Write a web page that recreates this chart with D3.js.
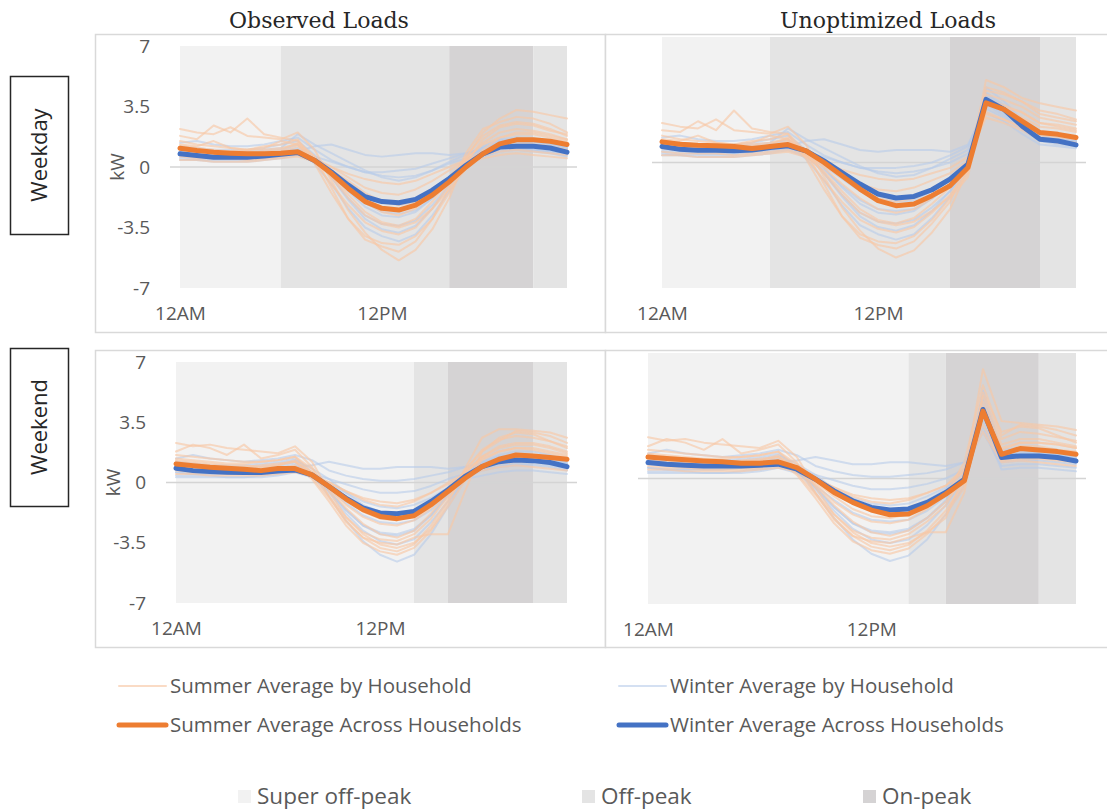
<!DOCTYPE html>
<html>
<head>
<meta charset="utf-8">
<script src="https://cdn.jsdelivr.net/npm/d3@7"></script>
<style>
  html, body { margin: 0; padding: 0; background: #ffffff; }
  svg { display: block; }
</style>
</head>
<body>
<svg id="chart" width="1107" height="810"></svg>
<script>
// ---- Hour-of-day categories and axis labels ----
const hours = d3.range(24);
const xTickHours = [0, 12];
const xTickLabels = ["12AM", "12PM"];
const yTickValues = [-7, -3.5, 0, 3.5, 7];

// ---- Tariff periods: [start hour, end hour, period] ----
const weekdayPeriods = [[0, 6, "super"], [6, 16, "off"], [16, 21, "on"], [21, 23, "off"]];
const weekendPeriods = [[0, 14, "super"], [14, 16, "off"], [16, 21, "on"], [21, 23, "off"]];

// ---- Observed loads, weekday (kW) ----
const obsWeekdaySummerMean = [1.09,0.96,0.86,0.80,0.76,0.76,0.80,0.88,0.38,-0.38,-1.24,-2.00,-2.39,-2.49,-2.20,-1.62,-0.86,0.00,0.76,1.34,1.57,1.57,1.49,1.30];
const obsWeekdayWinterMean = [0.76,0.67,0.57,0.57,0.57,0.63,0.73,0.84,0.38,-0.29,-1.05,-1.72,-2.00,-2.07,-1.87,-1.34,-0.67,0.10,0.76,1.15,1.20,1.20,1.10,0.86];
const obsWeekdaySummerHouseholds = [
  [2.2,2.0,1.9,2.3,1.8,1.7,1.6,2.0,1.0,-0.8,-2.5,-3.8,-4.8,-5.4,-4.8,-3.6,-1.8,0.5,2.0,2.8,3.3,3.2,3.0,2.8],
  [1.8,1.6,2.4,2.0,2.8,1.9,1.7,1.5,0.6,-1.2,-3.0,-4.2,-4.6,-4.9,-4.3,-3.0,-1.2,0.8,2.2,2.6,2.9,2.8,2.5,2.0],
  [1.2,1.1,1.0,0.9,0.9,0.8,0.9,1.2,0.4,-0.5,-1.6,-2.6,-3.2,-3.4,-3.0,-2.0,-0.8,0.4,1.4,2.0,2.2,2.1,1.9,1.6],
  [0.8,0.7,0.7,0.6,0.6,0.7,0.8,0.9,0.5,0.0,-0.6,-1.2,-1.5,-1.6,-1.3,-0.8,-0.2,0.4,0.9,1.2,1.3,1.3,1.2,1.0],
  [1.5,1.3,1.2,1.1,1.0,1.0,1.1,1.3,0.3,-1.0,-2.2,-3.2,-3.7,-3.9,-3.5,-2.4,-1.0,0.6,1.8,2.4,2.6,2.5,2.2,1.8],
  [0.6,0.5,0.5,0.5,0.4,0.5,0.6,0.7,0.4,0.0,-0.4,-0.7,-0.9,-1.0,-0.8,-0.4,0.0,0.4,0.7,0.9,1.0,0.9,0.8,0.7],
  [1.0,0.9,0.8,0.8,0.8,0.9,1.0,1.4,0.6,-0.3,-1.2,-2.0,-2.6,-2.8,-2.4,-1.6,-0.6,0.5,1.3,1.7,1.9,1.9,1.7,1.5],
  [1.3,1.2,1.5,1.1,1.0,1.2,1.3,1.6,0.2,-1.5,-3.0,-4.0,-4.4,-4.5,-4.0,-3.0,-1.5,0.2,1.6,2.3,2.5,2.4,2.1,1.9],
  [0.4,0.4,0.3,0.3,0.3,0.4,0.5,0.6,0.3,-0.2,-0.8,-1.5,-2.0,-2.2,-2.0,-1.4,-0.6,0.2,0.5,0.7,0.8,0.7,0.6,0.5],
  [1.1,1.0,0.9,0.9,1.0,1.1,1.5,1.3,0.5,-0.6,-1.8,-2.8,-3.3,-3.5,-3.2,-2.4,-1.3,-0.1,1.0,1.7,2.0,2.0,1.8,1.6]
];
const obsWeekdayWinterHouseholds = [
  [1.4,1.5,1.3,1.2,1.2,1.3,1.5,1.7,1.0,0.4,0.0,-0.3,-0.3,-0.2,-0.1,0.2,0.5,0.8,1.0,1.1,1.1,1.0,0.9,0.8],
  [0.6,0.5,0.5,0.5,0.5,0.6,0.7,0.9,1.2,1.3,1.0,0.7,0.6,0.7,0.8,0.8,0.7,0.8,1.0,1.2,1.3,1.2,1.1,0.9],
  [1.0,0.9,0.8,0.8,0.8,0.9,1.0,1.3,0.5,-0.6,-1.8,-2.8,-3.3,-3.4,-3.1,-2.2,-1.0,0.3,1.2,1.6,1.7,1.6,1.4,1.1],
  [0.8,0.7,0.6,0.6,0.6,0.7,0.8,1.0,0.2,-1.0,-2.4,-3.5,-4.0,-4.3,-3.9,-2.8,-1.4,0.0,1.0,1.4,1.5,1.5,1.3,1.0],
  [0.5,0.4,0.4,0.4,0.4,0.5,0.6,0.8,0.6,0.3,0.0,-0.3,-0.5,-0.6,-0.5,-0.2,0.2,0.5,0.8,1.0,1.0,1.0,0.9,0.7],
  [1.2,1.1,1.0,1.0,1.0,1.1,1.3,1.5,0.7,-0.3,-1.4,-2.3,-2.8,-2.9,-2.6,-1.8,-0.8,0.3,1.1,1.5,1.6,1.5,1.4,1.2],
  [0.7,0.6,0.5,0.5,0.5,0.6,0.7,0.8,0.4,-0.2,-0.9,-1.6,-2.0,-2.2,-2.0,-1.4,-0.6,0.3,0.9,1.2,1.3,1.2,1.1,0.9],
  [0.9,0.8,0.7,0.7,0.7,0.8,0.9,1.1,0.5,-0.6,-1.9,-3.0,-3.6,-3.8,-3.4,-2.4,-1.1,0.2,1.1,1.5,1.6,1.5,1.3,1.1],
  [0.4,0.4,0.3,0.3,0.3,0.4,0.5,0.7,0.3,-0.4,-1.3,-2.1,-2.6,-2.7,-2.5,-1.8,-0.9,0.1,0.6,0.9,1.0,0.9,0.8,0.6],
  [1.1,1.0,0.9,0.9,0.9,1.0,1.1,1.9,1.3,0.8,0.3,-0.2,-0.6,-0.8,-0.6,-0.2,0.3,0.7,1.1,1.3,1.4,1.4,1.3,1.1]
];

// ---- Unoptimized loads, weekday (kW) ----
const unoptWeekdaySummerMean = [1.15,1.02,0.96,0.93,0.89,0.78,0.89,1.00,0.65,0.00,-0.74,-1.48,-2.13,-2.41,-2.31,-1.85,-1.30,-0.28,3.33,2.96,2.31,1.67,1.57,1.39];
const unoptWeekdayWinterMean = [0.89,0.74,0.69,0.69,0.65,0.70,0.83,0.93,0.65,0.09,-0.56,-1.20,-1.76,-1.98,-1.89,-1.52,-0.93,-0.09,3.52,2.96,2.04,1.30,1.20,0.98];
const unoptWeekdaySummerHouseholds = [
  [2.2,2.0,1.9,2.4,1.8,1.7,1.6,2.0,1.0,-0.8,-2.5,-3.8,-4.8,-5.3,-4.9,-3.9,-2.6,-0.4,4.6,4.2,3.6,3.3,3.1,2.9],
  [1.8,1.7,2.3,1.8,2.9,1.9,1.7,1.6,0.6,-1.2,-3.0,-4.2,-4.6,-4.8,-4.4,-3.4,-2.2,0.2,4.2,3.9,3.4,2.9,2.7,2.4],
  [1.2,1.1,1.0,0.9,0.9,0.8,0.9,1.2,0.4,-0.5,-1.6,-2.6,-3.2,-3.4,-3.1,-2.3,-1.4,0.0,3.5,3.2,2.8,2.2,2.1,1.9],
  [0.8,0.7,0.7,0.6,0.6,0.7,0.8,0.9,0.5,0.0,-0.6,-1.2,-1.5,-1.6,-1.4,-1.0,-0.6,0.1,2.7,2.4,2.0,1.5,1.4,1.3],
  [1.5,1.3,1.2,1.1,1.0,1.0,1.1,1.3,0.3,-1.0,-2.2,-3.2,-3.7,-3.9,-3.6,-2.8,-1.8,-0.5,3.8,3.5,3.1,2.5,2.3,2.1],
  [0.6,0.5,0.5,0.5,0.4,0.5,0.6,0.7,0.4,0.0,-0.4,-0.7,-0.9,-1.0,-0.9,-0.6,-0.3,0.3,2.5,2.2,1.8,1.3,1.2,1.1],
  [1.0,0.9,0.8,0.8,0.8,0.9,1.0,1.4,0.6,-0.3,-1.2,-2.0,-2.6,-2.8,-2.6,-2.0,-1.2,-0.2,3.3,3.0,2.5,2.0,1.9,1.7],
  [1.3,1.2,1.5,1.1,1.0,1.2,1.3,1.6,0.2,-1.5,-3.0,-4.0,-4.4,-4.5,-4.1,-3.2,-2.0,-0.8,4.0,3.8,3.4,2.7,2.5,2.3],
  [0.4,0.4,0.3,0.3,0.3,0.4,0.5,0.6,0.3,-0.2,-0.8,-1.5,-2.0,-2.2,-2.0,-1.6,-1.0,-0.2,2.8,2.4,1.9,1.3,1.1,1.0],
  [1.1,1.0,0.9,0.9,1.0,1.1,1.5,1.3,0.5,-0.6,-1.8,-2.8,-3.3,-3.5,-3.3,-2.7,-1.9,-0.6,3.4,3.1,2.8,2.2,2.0,1.8]
];
const unoptWeekdayWinterHouseholds = [
  [1.4,1.5,1.3,1.2,1.2,1.3,1.5,1.7,1.0,0.4,0.0,-0.3,-0.3,-0.3,-0.2,0.0,0.4,0.9,3.2,2.6,1.9,1.3,1.2,1.1],
  [0.6,0.5,0.5,0.5,0.5,0.6,0.7,0.9,1.2,1.3,1.0,0.7,0.6,0.7,0.7,0.7,0.6,1.0,3.0,2.5,1.8,1.2,1.1,1.0],
  [1.0,0.9,0.8,0.8,0.8,0.9,1.0,1.3,0.5,-0.6,-1.8,-2.8,-3.3,-3.4,-3.2,-2.5,-1.6,-0.3,3.9,3.2,2.3,1.5,1.4,1.2],
  [0.8,0.7,0.6,0.6,0.6,0.7,0.8,1.0,0.2,-1.0,-2.4,-3.5,-4.0,-4.3,-4.0,-3.1,-1.9,-0.5,4.2,3.4,2.4,1.6,1.5,1.3],
  [0.5,0.4,0.4,0.4,0.4,0.5,0.6,0.8,0.6,0.3,0.0,-0.3,-0.5,-0.6,-0.5,-0.3,0.0,0.5,2.8,2.3,1.6,1.0,0.9,0.8],
  [1.2,1.1,1.0,1.0,1.0,1.1,1.3,1.5,0.7,-0.3,-1.4,-2.3,-2.8,-2.9,-2.7,-2.0,-1.2,0.0,3.7,3.0,2.2,1.5,1.4,1.2],
  [0.7,0.6,0.5,0.5,0.5,0.6,0.7,0.8,0.4,-0.2,-0.9,-1.6,-2.0,-2.2,-2.1,-1.6,-0.9,0.1,3.4,2.8,2.0,1.3,1.2,1.0],
  [0.9,0.8,0.7,0.7,0.7,0.8,0.9,1.1,0.5,-0.6,-1.9,-3.0,-3.6,-3.8,-3.5,-2.7,-1.6,-0.2,3.8,3.1,2.2,1.5,1.3,1.2],
  [0.4,0.4,0.3,0.3,0.3,0.4,0.5,0.7,0.3,-0.4,-1.3,-2.1,-2.6,-2.7,-2.6,-2.0,-1.2,-0.1,3.3,2.7,1.9,1.2,1.0,0.9],
  [1.1,1.0,0.9,0.9,0.9,1.0,1.1,1.9,1.3,0.8,0.3,-0.2,-0.6,-0.8,-0.7,-0.3,0.2,0.7,3.5,2.9,2.1,1.4,1.3,1.2]
];

// ---- Observed loads, weekend (kW) ----
const obsWeekendSummerMean = [1.08,0.98,0.89,0.83,0.77,0.69,0.81,0.81,0.44,-0.23,-0.96,-1.58,-1.97,-2.10,-1.93,-1.29,-0.52,0.25,0.92,1.35,1.60,1.54,1.45,1.35];
const obsWeekendWinterMean = [0.83,0.69,0.64,0.60,0.58,0.58,0.67,0.73,0.44,-0.23,-0.91,-1.48,-1.77,-1.81,-1.68,-1.10,-0.42,0.35,0.92,1.21,1.31,1.27,1.16,0.92];
const obsWeekendSummerHouseholds = [
  [2.3,2.1,2.2,2.0,1.9,1.8,1.7,2.1,1.2,-0.5,-2.0,-3.0,-3.6,-3.8,-3.5,-2.7,-1.2,0.8,2.6,3.1,3.1,3.0,2.9,2.6],
  [1.8,2.2,2.0,1.6,2.2,1.4,1.6,1.9,0.9,-0.8,-2.3,-3.2,-3.5,-3.6,-3.2,-3.0,-3.0,-0.5,1.8,2.6,2.9,2.8,2.4,2.0],
  [1.3,1.2,1.1,1.0,1.0,0.9,1.0,1.3,0.5,-0.4,-1.5,-2.4,-3.0,-3.2,-2.8,-1.8,-0.6,0.6,1.5,2.1,2.3,2.3,2.1,1.8],
  [0.7,0.6,0.6,0.5,0.5,0.5,0.6,0.8,0.5,0.0,-0.5,-1.0,-1.3,-1.4,-1.1,-0.6,0.0,0.5,0.9,1.1,1.2,1.2,1.1,1.0],
  [1.6,1.5,1.4,1.3,1.2,1.2,1.3,1.5,0.6,-0.8,-2.0,-2.9,-3.3,-3.4,-3.0,-2.1,-0.8,0.7,1.9,2.5,2.7,2.6,2.4,2.1],
  [0.5,0.5,0.4,0.4,0.4,0.4,0.5,0.6,0.4,0.0,-0.5,-0.9,-1.1,-1.2,-1.0,-0.6,-0.1,0.4,0.7,0.9,1.0,0.9,0.8,0.7],
  [1.0,0.9,0.9,0.8,0.8,0.9,1.0,1.2,0.3,-0.9,-2.2,-3.2,-3.8,-4.0,-3.6,-2.5,-1.0,0.5,1.5,2.0,2.2,2.2,2.0,1.7],
  [1.4,1.3,1.2,1.1,1.1,1.2,1.3,1.5,0.8,-0.3,-1.3,-2.0,-2.4,-2.5,-2.2,-1.5,-0.5,0.7,1.8,2.4,3.0,2.9,2.7,2.3],
  [0.9,0.8,0.8,0.7,0.7,0.7,0.8,1.0,0.2,-1.1,-2.5,-3.5,-4.0,-4.2,-3.8,-2.8,-1.4,0.1,1.3,1.8,2.0,1.9,1.7,1.5],
  [1.2,1.1,1.0,0.9,0.9,1.0,1.1,1.2,0.6,-0.2,-1.0,-1.7,-2.1,-2.2,-1.9,-1.2,-0.3,0.6,1.4,1.8,2.0,2.0,1.8,1.6]
];
const obsWeekendWinterHouseholds = [
  [1.4,1.6,1.4,1.3,1.2,1.3,1.4,1.6,1.3,0.7,0.4,0.2,0.1,0.1,0.2,0.4,0.6,0.9,1.1,1.3,1.4,1.3,1.2,1.1],
  [0.6,0.5,0.5,0.5,0.5,0.6,0.7,0.9,1.0,1.2,1.0,0.8,0.8,0.9,0.9,0.9,0.8,0.9,1.0,1.2,1.3,1.3,1.2,1.0],
  [1.0,0.9,0.8,0.8,0.8,0.9,1.0,1.2,0.5,-0.8,-2.2,-3.4,-4.2,-4.6,-4.2,-3.0,-1.4,0.2,1.1,1.5,1.6,1.6,1.4,1.1],
  [0.8,0.7,0.6,0.6,0.6,0.7,0.8,1.0,0.4,-0.5,-1.6,-2.5,-3.0,-3.1,-2.8,-1.9,-0.7,0.5,1.2,1.5,1.6,1.5,1.3,1.0],
  [0.4,0.4,0.4,0.3,0.3,0.4,0.5,0.7,0.5,0.2,-0.1,-0.4,-0.6,-0.6,-0.5,-0.2,0.2,0.5,0.7,0.9,1.0,1.0,0.9,0.7],
  [1.2,1.1,1.0,1.0,1.0,1.1,1.2,1.4,0.6,-0.5,-1.6,-2.5,-2.9,-3.0,-2.7,-1.9,-0.8,0.4,1.2,1.6,1.8,1.8,1.6,1.3],
  [0.6,0.5,0.5,0.5,0.5,0.6,0.6,0.8,0.3,-0.4,-1.2,-1.9,-2.3,-2.4,-2.2,-1.6,-0.7,0.2,0.7,1.0,1.1,1.1,1.0,0.8],
  [0.9,0.8,0.7,0.7,0.7,0.8,0.9,1.1,0.5,-0.6,-1.8,-2.8,-3.4,-3.6,-3.3,-2.3,-1.1,0.2,1.0,1.4,1.5,1.5,1.3,1.1],
  [0.3,0.3,0.3,0.3,0.3,0.3,0.4,0.6,0.3,-0.1,-0.6,-1.1,-1.4,-1.5,-1.3,-0.9,-0.3,0.2,0.4,0.6,0.7,0.7,0.6,0.5],
  [1.1,1.0,0.9,0.9,0.9,1.0,1.1,1.3,0.8,0.2,-0.6,-1.3,-1.7,-1.8,-1.6,-1.1,-0.4,0.4,1.1,1.4,1.5,1.5,1.4,1.2]
];

// ---- Unoptimized loads, weekend (kW) ----
const unoptWeekendSummerMean = [1.20,1.11,1.04,0.98,0.93,0.85,0.85,0.93,0.61,-0.04,-0.78,-1.33,-1.76,-2.02,-1.98,-1.52,-0.87,-0.13,3.76,1.35,1.67,1.59,1.50,1.35];
const unoptWeekendWinterMean = [0.89,0.80,0.74,0.70,0.70,0.70,0.74,0.80,0.52,-0.04,-0.69,-1.24,-1.61,-1.76,-1.70,-1.33,-0.78,-0.04,3.85,1.17,1.26,1.26,1.17,0.98];
const unoptWeekendSummerHouseholds = [
  [2.3,2.1,2.2,2.0,1.9,1.8,1.7,2.1,1.2,-0.5,-2.0,-3.0,-3.6,-3.8,-3.6,-3.0,-2.2,0.2,6.1,3.2,3.1,3.0,2.9,2.7],
  [1.8,2.2,2.0,1.6,2.2,1.4,1.6,1.9,0.9,-0.8,-2.3,-3.2,-3.5,-3.6,-3.3,-3.0,-3.0,-0.8,4.8,2.6,2.9,2.8,2.4,2.0],
  [1.3,1.2,1.1,1.0,1.0,0.9,1.0,1.3,0.5,-0.4,-1.5,-2.4,-3.0,-3.2,-2.9,-2.2,-1.3,0.0,4.3,1.9,2.2,2.2,2.0,1.8],
  [0.7,0.6,0.6,0.5,0.5,0.5,0.6,0.8,0.5,0.0,-0.5,-1.0,-1.3,-1.4,-1.2,-0.8,-0.4,0.4,3.0,1.0,1.1,1.1,1.0,0.9],
  [1.6,1.5,1.4,1.3,1.2,1.2,1.3,1.5,0.6,-0.8,-2.0,-2.9,-3.3,-3.4,-3.1,-2.4,-1.5,0.3,4.6,2.2,2.6,2.5,2.3,2.1],
  [0.5,0.5,0.4,0.4,0.4,0.4,0.5,0.6,0.4,0.0,-0.5,-0.9,-1.1,-1.2,-1.1,-0.8,-0.4,0.6,2.6,0.9,1.0,0.9,0.8,0.7],
  [1.0,0.9,0.9,0.8,0.8,0.9,1.0,1.2,0.3,-0.9,-2.2,-3.2,-3.8,-4.0,-3.7,-2.9,-1.8,-0.3,4.0,1.6,2.0,2.0,1.9,1.7],
  [1.4,1.3,1.2,1.1,1.1,1.2,1.3,1.5,0.8,-0.3,-1.3,-2.0,-2.4,-2.5,-2.3,-1.7,-0.9,0.9,5.2,2.4,3.0,2.9,2.7,2.4],
  [0.9,0.8,0.8,0.7,0.7,0.7,0.8,1.0,0.2,-1.1,-2.5,-3.5,-4.0,-4.2,-3.9,-3.1,-2.0,-0.5,3.6,1.4,1.8,1.8,1.6,1.5],
  [1.2,1.1,1.0,0.9,0.9,1.0,1.1,1.2,0.6,-0.2,-1.0,-1.7,-2.1,-2.2,-2.0,-1.5,-0.8,0.5,3.9,1.7,2.0,2.0,1.9,1.7]
];
const unoptWeekendWinterHouseholds = [
  [1.4,1.6,1.4,1.3,1.2,1.3,1.4,1.6,1.3,0.7,0.4,0.2,0.1,0.1,0.2,0.3,0.5,0.9,3.4,1.5,1.5,1.4,1.3,1.2],
  [0.6,0.5,0.5,0.5,0.5,0.6,0.7,0.9,1.0,1.2,1.0,0.8,0.8,0.9,0.9,0.8,0.7,0.9,3.0,1.1,1.2,1.2,1.1,1.0],
  [1.0,0.9,0.8,0.8,0.8,0.9,1.0,1.2,0.5,-0.8,-2.2,-3.4,-4.2,-4.6,-4.3,-3.4,-2.0,-0.4,4.9,1.5,1.6,1.5,1.4,1.2],
  [0.8,0.7,0.6,0.6,0.6,0.7,0.8,1.0,0.4,-0.5,-1.6,-2.5,-3.0,-3.1,-2.9,-2.2,-1.2,0.2,4.2,1.3,1.4,1.4,1.3,1.1],
  [0.4,0.4,0.4,0.3,0.3,0.4,0.5,0.7,0.5,0.2,-0.1,-0.4,-0.6,-0.6,-0.5,-0.3,0.0,0.5,2.6,0.7,0.8,0.8,0.7,0.6],
  [1.2,1.1,1.0,1.0,1.0,1.1,1.2,1.4,0.6,-0.5,-1.6,-2.5,-2.9,-3.0,-2.8,-2.2,-1.3,0.1,4.4,1.6,1.7,1.7,1.6,1.4],
  [0.6,0.5,0.5,0.5,0.5,0.6,0.6,0.8,0.3,-0.4,-1.2,-1.9,-2.3,-2.4,-2.3,-1.8,-1.0,0.0,3.3,0.9,1.0,1.0,0.9,0.8],
  [0.9,0.8,0.7,0.7,0.7,0.8,0.9,1.1,0.5,-0.6,-1.8,-2.8,-3.4,-3.6,-3.4,-2.6,-1.5,0.0,4.6,1.3,1.4,1.4,1.3,1.1],
  [0.3,0.3,0.3,0.3,0.3,0.3,0.4,0.6,0.3,-0.1,-0.6,-1.1,-1.4,-1.5,-1.4,-1.0,-0.5,0.3,2.9,0.5,0.6,0.6,0.5,0.4],
  [1.1,1.0,0.9,0.9,0.9,1.0,1.1,1.3,0.8,0.2,-0.6,-1.3,-1.7,-1.8,-1.7,-1.2,-0.6,0.5,3.8,1.2,1.3,1.3,1.2,1.1]
];

// ---- Titles and legend entries ----
const columnTitles = ["Observed Loads", "Unoptimized Loads"];
const rowTitles = ["Weekday", "Weekend"];
const lineLegend = [
  { key: "summerHH", label: "Summer Average by Household" },
  { key: "winterHH", label: "Winter Average by Household" },
  { key: "summerMean", label: "Summer Average Across Households" },
  { key: "winterMean", label: "Winter Average Across Households" }
];
const periodLegend = [
  { key: "super", label: "Super off-peak" },
  { key: "off", label: "Off-peak" },
  { key: "on", label: "On-peak" }
];

// ---- Styling ----
const periodColor = { super: "#f2f2f2", off: "#e4e4e4", on: "#d5d3d4" };
const lineStyle = {
  summerHH:   { stroke: "#f8c8a6", width: 2,   opacity: 0.65 },
  winterHH:   { stroke: "#b8cbea", width: 2,   opacity: 0.6 },
  summerMean: { stroke: "#ed7d31", width: 5,   opacity: 1 },
  winterMean: { stroke: "#4472c4", width: 5,   opacity: 1 }
};
const textGray = "#595959";
const bodyFont = "'Open Sans', 'Noto Sans', sans-serif";

const svg = d3.select("#chart");

// Panel frames (chart-area borders)
const frames = [
  { x: 95,  y: 34,  w: 510, h: 298 },
  { x: 605, y: 34,  w: 510, h: 298 },
  { x: 95,  y: 350, w: 510, h: 297 },
  { x: 605, y: 350, w: 510, h: 297 }
];
svg.append("g").selectAll("rect").data(frames).join("rect")
  .attr("x", d => d.x + 0.5).attr("y", d => d.y + 0.5)
  .attr("width", d => d.w).attr("height", d => d.h)
  .attr("fill", "#ffffff").attr("stroke", "#d9d9d9").attr("stroke-width", 1.5);

// Panel definitions: plot rectangle + data
const panels = [
  { x0: 180, x1: 567,  y0: 46,  y1: 288, yAxis: true,  periods: weekdayPeriods,
    summerHH: obsWeekdaySummerHouseholds, winterHH: obsWeekdayWinterHouseholds,
    summerMean: obsWeekdaySummerMean, winterMean: obsWeekdayWinterMean },
  { x0: 662, x1: 1076, y0: 37,  y1: 288, yAxis: false, periods: weekdayPeriods,
    summerHH: unoptWeekdaySummerHouseholds, winterHH: unoptWeekdayWinterHouseholds,
    summerMean: unoptWeekdaySummerMean, winterMean: unoptWeekdayWinterMean },
  { x0: 176, x1: 567,  y0: 362, y1: 603, yAxis: true,  periods: weekendPeriods,
    summerHH: obsWeekendSummerHouseholds, winterHH: obsWeekendWinterHouseholds,
    summerMean: obsWeekendSummerMean, winterMean: obsWeekendWinterMean },
  { x0: 648, x1: 1076, y0: 353, y1: 604, yAxis: false, periods: weekendPeriods,
    summerHH: unoptWeekendSummerHouseholds, winterHH: unoptWeekendWinterHouseholds,
    summerMean: unoptWeekendSummerMean, winterMean: unoptWeekendWinterMean }
];

panels.forEach(p => {
  const x = d3.scaleLinear().domain([0, 23]).range([p.x0, p.x1]);
  const y = d3.scaleLinear().domain([-7, 7]).range([p.y1, p.y0]);
  const g = svg.append("g");

  // Tariff period shading
  g.append("g").selectAll("rect").data(p.periods).join("rect")
    .attr("x", d => x(d[0])).attr("y", y(7))
    .attr("width", d => x(d[1]) - x(d[0])).attr("height", y(-7) - y(7))
    .attr("fill", d => periodColor[d[2]]);

  // Zero line
  g.append("line")
    .attr("x1", p.x0 - 10).attr("x2", p.x1 + 10)
    .attr("y1", y(0)).attr("y2", y(0))
    .attr("stroke", "#d4d4d4").attr("stroke-width", 1.5);

  const line = d3.line().x((d, i) => x(hours[i])).y(d => y(d));

  const drawSet = (rows, key) => {
    const s = lineStyle[key];
    g.append("g").selectAll("path").data(rows).join("path")
      .attr("d", line).attr("fill", "none")
      .attr("stroke", s.stroke).attr("stroke-width", s.width)
      .attr("stroke-opacity", s.opacity)
      .attr("stroke-linejoin", "round").attr("stroke-linecap", "round");
  };
  drawSet(p.winterHH, "winterHH");
  drawSet(p.summerHH, "summerHH");
  drawSet([p.winterMean], "winterMean");
  drawSet([p.summerMean], "summerMean");

  // Category axis labels
  const xAxis = d3.axisBottom(x).tickValues(xTickHours)
    .tickFormat((d, i) => xTickLabels[i]).tickSize(0).tickPadding(0);
  const xg = g.append("g").attr("transform", `translate(0,${p.y1 + 18})`).call(xAxis);
  xg.select(".domain").remove();
  xg.selectAll("text").attr("fill", textGray).attr("font-size", 19)
    .attr("font-family", bodyFont).attr("dy", "0.71em").attr("y", 0);

  if (p.yAxis) {
    const yAxis = d3.axisLeft(y).tickValues(yTickValues)
      .tickFormat(d => String(d)).tickSize(0).tickPadding(0);
    const yg = g.append("g").attr("transform", `translate(${p.x0 - 30},0)`).call(yAxis);
    yg.select(".domain").remove();
    yg.selectAll("text").attr("fill", textGray).attr("font-size", 19)
      .attr("font-family", bodyFont).attr("x", 0);
    g.append("text")
      .attr("transform", `translate(${p.x0 - 63},${y(0)}) rotate(-90)`)
      .attr("text-anchor", "middle").attr("dy", "0.35em")
      .attr("fill", textGray).attr("font-size", 19).attr("font-family", bodyFont)
      .text("kW");
  }
});

// Column titles
svg.append("g").selectAll("text").data(columnTitles).join("text")
  .attr("x", (d, i) => i === 0 ? 319 : 888).attr("y", 28)
  .attr("text-anchor", "middle")
  .attr("font-family", "'DejaVu Serif', serif").attr("font-size", 22)
  .attr("fill", "#262626").text(d => d);

// Row titles in boxes
const rowBoxes = [{ y: 76, h: 158 }, { y: 348, h: 158 }];
rowTitles.forEach((t, i) => {
  const b = rowBoxes[i];
  svg.append("rect").attr("x", 10.5).attr("y", b.y + 0.5).attr("width", 58).attr("height", b.h)
    .attr("fill", "#ffffff").attr("stroke", "#262626").attr("stroke-width", 1.5);
  svg.append("text")
    .attr("transform", `translate(${39.5},${b.y + b.h / 2}) rotate(-90)`)
    .attr("text-anchor", "middle").attr("dy", "0.35em")
    .attr("font-family", bodyFont).attr("font-size", 22).attr("fill", "#262626")
    .text(t);
});

// Line legend (two columns, two rows)
const legendPos = [
  { x: 119, y: 686 }, { x: 619, y: 686 },
  { x: 119, y: 725 }, { x: 619, y: 725 }
];
const lg = svg.append("g");
lineLegend.forEach((item, i) => {
  const pos = legendPos[i];
  const s = lineStyle[item.key];
  lg.append("line").attr("x1", pos.x).attr("x2", pos.x + 47)
    .attr("y1", pos.y).attr("y2", pos.y)
    .attr("stroke", s.stroke).attr("stroke-width", s.width)
    .attr("stroke-opacity", s.opacity).attr("stroke-linecap", "round");
  lg.append("text").attr("x", pos.x + 51).attr("y", pos.y).attr("dy", "0.35em")
    .attr("font-family", bodyFont).attr("font-size", 20.5).attr("fill", textGray)
    .text(item.label);
});

// Tariff period legend
const periodPos = [{ x: 238, y: 796 }, { x: 582, y: 796 }, { x: 863, y: 796 }];
periodLegend.forEach((item, i) => {
  const pos = periodPos[i];
  lg.append("rect").attr("x", pos.x).attr("y", pos.y - 6).attr("width", 13).attr("height", 13)
    .attr("fill", periodColor[item.key]);
  lg.append("text").attr("x", pos.x + 19).attr("y", pos.y).attr("dy", "0.35em")
    .attr("font-family", bodyFont).attr("font-size", 22.5).attr("fill", textGray)
    .text(item.label);
});
</script>
</body>
</html>
